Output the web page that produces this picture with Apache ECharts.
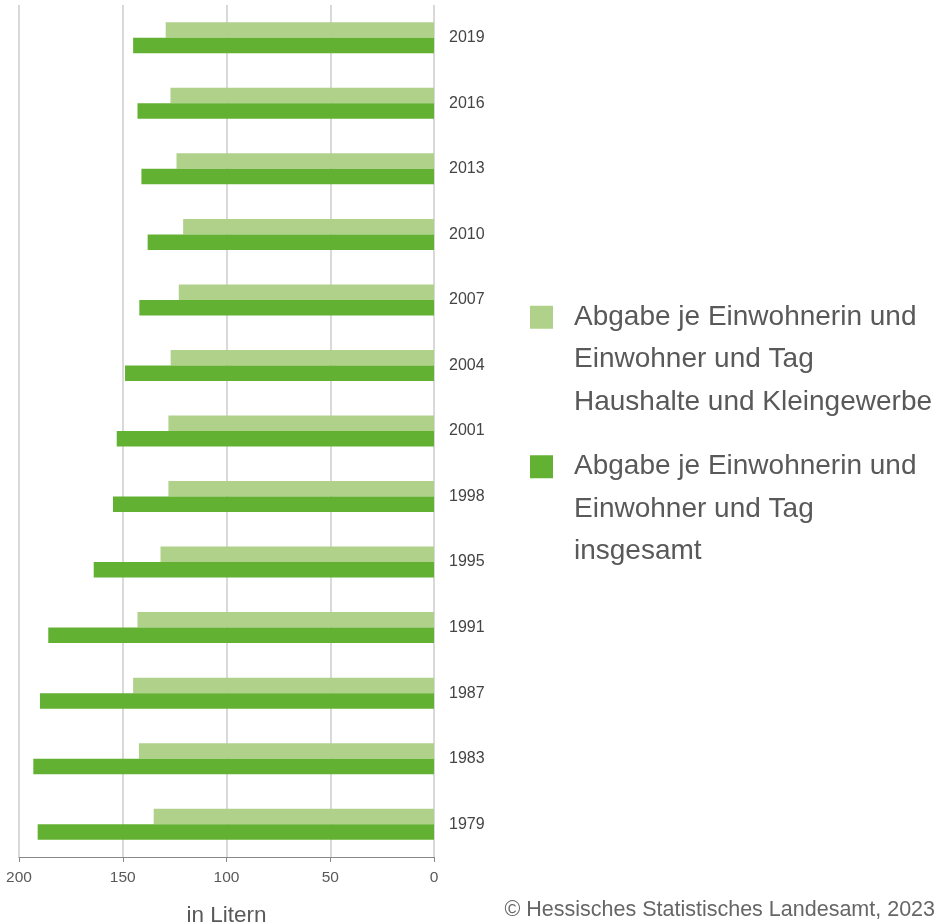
<!DOCTYPE html>
<html>
<head>
<meta charset="utf-8">
<script src="https://cdn.jsdelivr.net/npm/echarts@6/dist/echarts.min.js"></script>
<style>
html,body{margin:0;padding:0;background:#fff;}
#chart{width:936px;height:923px;}
</style>
</head>
<body>
<div id="chart"></div>
<script>
var years = ['2019','2016','2013','2010','2007','2004','2001','1998','1995','1991','1987','1983','1979'];
var haushalte = [129.3, 127.0, 124.1, 120.9, 123.0, 126.9, 128.0, 128.0, 131.8, 142.9, 145.0, 142.2, 135.1];
var insgesamt = [145.0, 142.9, 141.0, 138.0, 142.0, 148.9, 152.9, 154.7, 164.0, 185.9, 189.9, 193.1, 191.0];
var xTicks = [0, 50, 100, 150, 200];
var seriesNames = [
  'Abgabe je Einwohnerin und\nEinwohner und Tag\nHaushalte und Kleingewerbe',
  'Abgabe je Einwohnerin und\nEinwohner und Tag\ninsgesamt'
];
var axisName = 'in Litern';
var sourceText = '\u00A9 Hessisches Statistisches Landesamt, 2023';

var FONT = "'Liberation Sans', Arial, sans-serif";
var chart = echarts.init(document.getElementById('chart'));
var legendCommon = {
  orient: 'vertical',
  left: 530,
  padding: 0,
  itemWidth: 23,
  itemHeight: 23,
  itemGap: 0,
  icon: 'rect',
  textStyle: { fontFamily: FONT, fontSize: 28, color: '#595959', lineHeight: 42.5, padding: [0,0,0,16] },
  formatter: function (n) { return '\n\n' + n; },
  selectedMode: false
};
chart.setOption({
  animation: false,
  textStyle: { fontFamily: FONT },
  grid: { left: 19, right: 502, top: 5, bottom: 66, containLabel: false, outerBoundsMode: 'none' },
  legend: [
    Object.assign({}, legendCommon, { data: [seriesNames[0]], top: 211 }),
    Object.assign({}, legendCommon, { data: [seriesNames[1]], top: 360.5 })
  ],
  title: {
    text: sourceText,
    right: 1,
    bottom: 2,
    padding: 0,
    textStyle: { fontFamily: FONT, fontSize: 21.5, fontWeight: 'normal', color: '#666' }
  },
  xAxis: {
    type: 'value',
    inverse: true,
    min: xTicks[0],
    max: xTicks[xTicks.length - 1],
    interval: xTicks[1] - xTicks[0],
    name: axisName,
    nameLocation: 'middle',
    nameGap: 47,
    nameTextStyle: { fontFamily: FONT, fontSize: 22.5, color: '#595959' },
    axisLine: { show: true, lineStyle: { color: '#888', width: 1 } },
    axisTick: { show: true, length: 5, lineStyle: { color: '#888' } },
    axisLabel: { fontFamily: FONT, fontSize: 15.5, color: '#595959', margin: 13 },
    splitLine: { show: true, lineStyle: { color: '#cccccc', width: 1.5 } }
  },
  yAxis: {
    type: 'category',
    position: 'right',
    inverse: true,
    data: years,
    axisLine: { show: false },
    axisTick: { show: false },
    axisLabel: { fontFamily: FONT, fontSize: 16, color: '#444', margin: 15 }
  },
  series: [
    { name: seriesNames[0], type: 'bar', data: haushalte, barWidth: 15.5, barGap: '0%', itemStyle: { color: '#b0d18a' } },
    { name: seriesNames[1], type: 'bar', data: insgesamt, barWidth: 15.5, barGap: '0%', itemStyle: { color: '#63b132' } }
  ]
});
</script>
</body>
</html>
